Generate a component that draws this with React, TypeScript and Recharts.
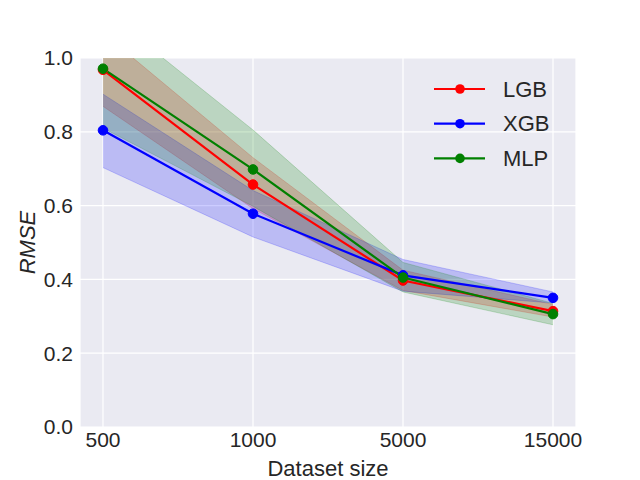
import { ComposedChart, Area, Line, XAxis, YAxis, CartesianGrid, Legend, Label } from 'recharts';

// dataset sizes on the x axis (evenly spaced, categorical)
const sizes = ['500', '1000', '5000', '15000'];
const yTicks = [0, 0.2, 0.4, 0.6, 0.8, 1.0];

// mean RMSE and band edges
const lgbMean = [0.968, 0.657, 0.397, 0.314];
const lgbLow = [0.869, 0.592, 0.37, 0.298];
const lgbHigh = [1.068, 0.73, 0.425, 0.332];

const xgbMean = [0.804, 0.578, 0.411, 0.35];
const xgbLow = [0.703, 0.515, 0.368, 0.336];
const xgbHigh = [0.902, 0.641, 0.454, 0.366];

const mlpMean = [0.971, 0.698, 0.405, 0.306];
const mlpLow = [0.81, 0.598, 0.366, 0.277];
const mlpHigh = [1.13, 0.805, 0.446, 0.335];

const models = ['LGB', 'XGB', 'MLP'];
const modelColors = ['#ff0000', '#0000ff', '#008000'];

const data = sizes.map((s, i) => ({
  x: i,
  size: s,
  LGB: lgbMean[i],
  XGB: xgbMean[i],
  MLP: mlpMean[i],
  LGBband: [lgbLow[i], lgbHigh[i]],
  XGBband: [xgbLow[i], xgbHigh[i]],
  MLPband: [mlpLow[i], mlpHigh[i]],
}));

const FONT = '"Liberation Sans", Arial, sans-serif';
const TEXT = '#262626';

function LegendBox() {
  return (
    <svg width={140} height={110}>
      {models.map((m, i) => {
        const y = 17 + i * 34.7;
        return (
          <g key={m}>
            <line x1={4} x2={55} y1={y} y2={y} stroke={modelColors[i]} strokeWidth={2.2} />
            <circle cx={30} cy={y} r={4.8} fill={modelColors[i]} />
            <text x={73} y={y} dominantBaseline="central" fontSize={22} fontFamily={FONT} fill={TEXT}>
              {m}
            </text>
          </g>
        );
      })}
    </svg>
  );
}

export default function App() {
  return (
    <div style={{ position: 'absolute', left: 0, top: 0, width: 640, height: 480, background: '#fff' }}>
      <ComposedChart
        width={640}
        height={480}
        data={data}
        margin={{ top: 58, right: 64, bottom: 0, left: 20 }}
      >
        <CartesianGrid fill="#EAEAF2" stroke="#ffffff" strokeWidth={1.2} />
        <XAxis
          type="number"
          dataKey="x"
          domain={[-0.1533, 3.1533]}
          ticks={[0, 1, 2, 3]}
          tickFormatter={(v) => sizes[v]}
          allowDataOverflow
          axisLine={false}
          tickLine={false}
          tickSize={0}
          tickMargin={5}
          height={53}
          tick={{ fill: TEXT, fontSize: 21, fontFamily: FONT }}
        >
          <Label
            content={(p: any) => {
              const vb = p.viewBox;
              return (
                <text x={vb.x + vb.width / 2} y={476} textAnchor="middle" fontSize={22} fontFamily={FONT} fill={TEXT}>
                  Dataset size
                </text>
              );
            }}
          />
        </XAxis>
        <YAxis
          type="number"
          domain={[0, 1]}
          ticks={yTicks}
          tickFormatter={(v) => v.toFixed(1)}
          allowDataOverflow
          axisLine={false}
          tickLine={false}
          tickSize={0}
          tickMargin={7}
          width={60}
          tick={{ fill: TEXT, fontSize: 21, fontFamily: FONT }}
        >
          <Label
            content={() => {
              const cx = 27;
              const cy = 58 + 369 / 2;
              return (
                <text
                  x={cx}
                  y={cy}
                  transform={`rotate(-90 ${cx} ${cy})`}
                  textAnchor="middle"
                  dominantBaseline="central"
                  fontSize={22}
                  fontStyle="italic"
                  fontFamily={FONT}
                  fill={TEXT}
                >
                  RMSE
                </text>
              );
            }}
          />
        </YAxis>
        {models.map((m, i) => (
          <Area
            key={`${m}-band`}
            type="linear"
            dataKey={`${m}band`}
            fill={modelColors[i]}
            fillOpacity={0.2}
            stroke={modelColors[i]}
            strokeOpacity={0.2}
            strokeWidth={1}
            isAnimationActive={false}
            activeDot={false}
            legendType="none"
          />
        ))}
        {models.map((m, i) => (
          <Line
            key={m}
            type="linear"
            dataKey={m}
            stroke={modelColors[i]}
            strokeWidth={2.2}
            dot={{ r: 4.8, fill: modelColors[i], stroke: modelColors[i], strokeWidth: 1 }}
            activeDot={false}
            isAnimationActive={false}
          />
        ))}
        <Legend
          layout="vertical"
          align="center"
          verticalAlign="middle"
          content={() => <LegendBox />}
          wrapperStyle={{ position: 'absolute', left: 430, top: 72, width: 140, height: 110 }}
        />
      </ComposedChart>
    </div>
  );
}
